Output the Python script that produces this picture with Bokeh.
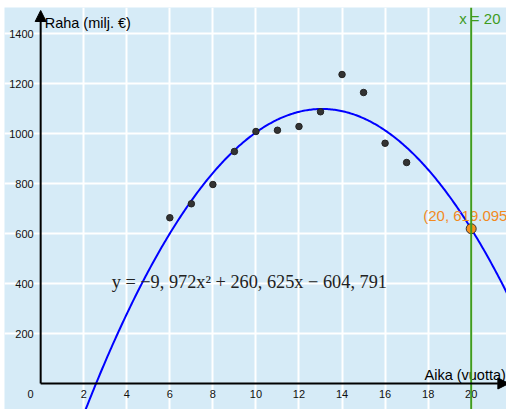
import numpy as np
from bokeh.plotting import figure
from bokeh.models import ColumnDataSource, Arrow, NormalHead, Label, FixedTicker, Span
from bokeh.core.properties import value
from bokeh.embed import file_html
from bokeh.resources import INLINE

# Data
years = [6, 7, 8, 9, 10, 11, 12, 13, 14, 15, 16, 17]
money = [663, 719, 796, 928, 1008, 1013, 1028, 1087, 1236, 1164, 961, 884]
coef_a, coef_b, coef_c = -9.972, 260.625, -604.791
x_ticks = [2, 4, 6, 8, 10, 12, 14, 16, 18, 20]
y_ticks = [200, 400, 600, 800, 1000, 1200, 1400]
marker_x = 20
marker_y = 619.095
equation_text = "y = −9, 972x² + 260, 625x − 604, 791"
x_title = "Aika (vuotta)"
y_title = "Raha (milj. €)"

BG = "#d6ebf7"
FONT = "Liberation Sans"

p = figure(width=506, height=409, x_range=(-1.68, 21.64), y_range=(-104, 1504),
           output_backend="svg", toolbar_location=None,
           x_axis_location=None, y_axis_location=None,
           min_border_left=4, min_border_top=7, min_border_right=0, min_border_bottom=0)
p.background_fill_color = BG
p.border_fill_color = "white"
p.outline_line_color = None

p.xgrid.ticker = FixedTicker(ticks=x_ticks)
p.ygrid.ticker = FixedTicker(ticks=y_ticks)
p.grid.grid_line_color = "white"
p.grid.grid_line_width = 2

# Fitted curve
xs = np.linspace(-1.7, 21.7, 400)
ys = coef_a * xs ** 2 + coef_b * xs + coef_c
p.line(xs, ys, line_color="#0000ff", line_width=2)

# Vertical line x = 20
p.add_layout(Span(location=marker_x, dimension="height", line_color="#3f9c1e", line_width=2))

# Axes with arrows
p.add_layout(Arrow(x_start=0, y_start=0, x_end=21.75, y_end=0, line_color="black", line_width=2,
                   end=NormalHead(size=11, fill_color="black", line_color="black")))
p.add_layout(Arrow(x_start=0, y_start=0, x_end=0, y_end=1492, line_color="black", line_width=2,
                   end=NormalHead(size=11, fill_color="black", line_color="black")))

# Data points
p.scatter(years, money, size=6.5, fill_color="#333333", line_color="#222222")

# Marker point
p.scatter([marker_x], [marker_y], size=10, fill_color="#f7921e", line_color="#333333", line_width=1)

# Tick labels
xsrc = ColumnDataSource(dict(x=x_ticks, y=[0] * len(x_ticks), t=[str(v) for v in x_ticks]))
p.text("x", "y", "t", source=xsrc, text_font=value(FONT), text_font_size="11px",
       text_align="center", text_baseline="middle", y_offset=10, text_color="#111111")
ysrc = ColumnDataSource(dict(x=[0] * len(y_ticks), y=y_ticks, t=[str(v) for v in y_ticks]))
p.text("x", "y", "t", source=ysrc, text_font=value(FONT), text_font_size="11px",
       text_align="right", text_baseline="middle", x_offset=-7, text_color="#111111")
p.text([0], [0], ["0"], text_font=value(FONT), text_font_size="11px",
       text_align="right", text_baseline="middle", x_offset=-7, y_offset=10, text_color="#111111")

# Axis titles
p.text([0], [1444], [y_title], text_font=value(FONT), text_font_size="14.5px",
       text_align="left", text_baseline="middle", x_offset=4, text_color="black")
p.text([17.83], [36], [x_title], text_font=value(FONT), text_font_size="14.5px",
       text_align="left", text_baseline="middle", text_color="black")

# x = 20 label
p.text([marker_x], [1460], ["x = 20"], text_font=value(FONT), text_font_size="15px",
       text_align="left", text_baseline="middle", x_offset=-12, text_color="#3f9c1e")

# Marker label
p.text([marker_x], [marker_y], ["(20, 619.095)"], text_font=value(FONT), text_font_size="15px",
       text_align="left", text_baseline="middle", x_offset=-48, y_offset=-13, text_color="#f28a1e")

# Equation
p.text([3.3], [405], [equation_text], text_font=value("Liberation Serif"), text_font_size="18.3px",
       text_align="left", text_baseline="middle", text_color="#222222")

open("out.html", "w").write(file_html(p, INLINE))
